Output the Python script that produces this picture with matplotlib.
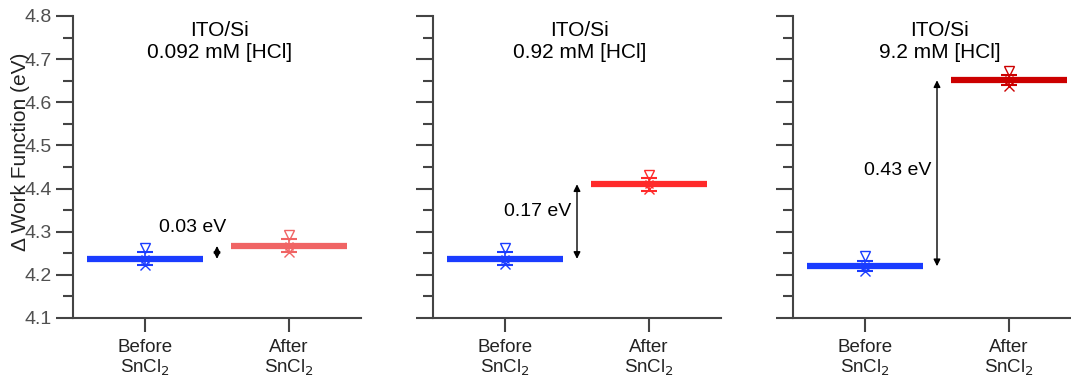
import matplotlib
matplotlib.use("Agg")
import matplotlib.pyplot as plt
from matplotlib.ticker import MultipleLocator

plt.rcParams['font.family'] = ['Liberation Sans', 'DejaVu Sans']

# Data
titles = ["ITO/Si\n0.092 mM [HCl]", "ITO/Si\n0.92 mM [HCl]", "ITO/Si\n9.2 mM [HCl]"]
categories = ["Before\nSnCl$_2$", "After\nSnCl$_2$"]
before_mean = [4.237, 4.237, 4.220]
after_mean = [4.267, 4.410, 4.651]
before_err = [0.015, 0.015, 0.012]
after_err = [0.015, 0.015, 0.012]
before_tri = [4.262, 4.262, 4.243]
after_tri = [4.292, 4.432, 4.672]
before_x = [4.222, 4.225, 4.208]
after_x = [4.252, 4.398, 4.637]
shifts = ["0.03 eV", "0.17 eV", "0.43 eV"]
shift_label_y = [4.31, 4.348, 4.443]

blue = "#1a3cff"
after_colors = ["#f06464", "#ff2a2a", "#cc0000"]
spine_col = "#444444"
tick_lbl_col = "#505050"

fig = plt.figure(figsize=(10.71, 3.83), dpi=100)
lefts = [73, 433, 793]
W, H = 1071, 383
ax_w = 288
ax_bottom = 65
ax_h = 302

for i in range(3):
    ax = fig.add_axes([lefts[i] / W, ax_bottom / H, ax_w / W, ax_h / H])
    ax.set_xlim(-0.5, 1.5)
    ax.set_ylim(4.1, 4.8)
    for s in ["top", "right"]:
        ax.spines[s].set_visible(False)
    for s in ["left", "bottom"]:
        ax.spines[s].set_color(spine_col)
        ax.spines[s].set_linewidth(1.5)

    for xpos, mean, err, tri, xv, col in [
        (0, before_mean[i], before_err[i], before_tri[i], before_x[i], blue),
        (1, after_mean[i], after_err[i], after_tri[i], after_x[i], after_colors[i]),
    ]:
        ax.plot([xpos - 0.4, xpos + 0.4], [mean, mean], color=col, lw=4.5,
                solid_capstyle="butt", zorder=2)
        ax.errorbar([xpos], [mean], yerr=[err], color=col, capsize=6,
                    capthick=1.5, elinewidth=1.2, fmt="none", zorder=3)
        ax.plot([xpos], [tri], marker="v", ms=7, mfc="none", mec=col,
                mew=1.0, ls="none", zorder=3)
        ax.plot([xpos], [xv], marker="x", ms=7, color=col, mew=1.0,
                ls="none", zorder=3)
        ax.plot([xpos], [mean], marker="x", ms=6, color=col, mew=1.0,
                ls="none", zorder=3)

    # shift arrow between the two levels
    ax.annotate("", xy=(0.5, after_mean[i]), xytext=(0.5, before_mean[i]),
                arrowprops=dict(arrowstyle="<|-|>", color="black", lw=1.0,
                                mutation_scale=10, shrinkA=0, shrinkB=0))
    if i == 0:
        ax.text(0.33, shift_label_y[i], shifts[i], ha="center", va="center",
                fontsize=14)
    else:
        ax.text(0.46, shift_label_y[i], shifts[i], ha="right", va="center",
                fontsize=14)

    ax.text(0.51, 0.985, titles[i], transform=ax.transAxes, ha="center",
            va="top", fontsize=15, linespacing=1.25)

    ax.set_xticks([0, 1])
    ax.set_xticklabels(categories, fontsize=13.5, color="#222222",
                       linespacing=1.1)
    ax.tick_params(axis="x", direction="out", length=10, width=1.5,
                   color=spine_col, pad=5)
    ax.yaxis.set_major_locator(MultipleLocator(0.1))
    ax.yaxis.set_minor_locator(MultipleLocator(0.05))
    ax.tick_params(axis="y", which="major", direction="out", length=12,
                   width=1.5, color=spine_col, labelsize=14,
                   labelcolor=tick_lbl_col, pad=3)
    ax.tick_params(axis="y", which="minor", direction="out", length=7,
                   width=1.5, color=spine_col)
    if i == 0:
        ax.set_yticks([4.1, 4.2, 4.3, 4.4, 4.5, 4.6, 4.7, 4.8])
        ax.set_yticklabels(["4.1", "4.2", "4.3", "4.4", "4.5", "4.6", "4.7", "4.8"])
        ax.set_ylabel("Δ Work Function (eV)", fontsize=15, color="#222222")
        ax.yaxis.set_label_coords(-0.15, 0.55)
    else:
        ax.set_yticklabels([])

fig.savefig("out.png", dpi=100)
